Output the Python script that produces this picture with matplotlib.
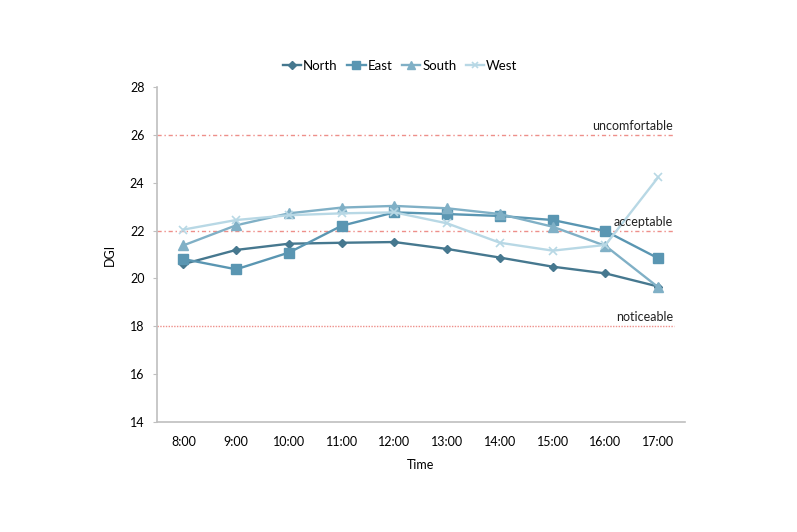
import matplotlib
matplotlib.use("Agg")
import matplotlib.pyplot as plt

plt.rcParams['font.family'] = ['Lato', 'DejaVu Sans']

times = ["8:00", "9:00", "10:00", "11:00", "12:00", "13:00", "14:00", "15:00", "16:00", "17:00"]
north = [20.60, 21.19, 21.45, 21.49, 21.52, 21.23, 20.87, 20.49, 20.21, 19.66]
east = [20.81, 20.38, 21.08, 22.20, 22.76, 22.69, 22.61, 22.44, 21.98, 20.84]
south = [21.38, 22.22, 22.72, 22.96, 23.03, 22.93, 22.69, 22.16, 21.36, 19.63]
west = [22.04, 22.44, 22.64, 22.72, 22.76, 22.30, 21.49, 21.16, 21.40, 24.23]
thresholds = [26, 22, 18]
threshold_labels = ["uncomfortable", "acceptable", "noticeable"]
yticks = [14, 16, 18, 20, 22, 24, 26, 28]

fig = plt.figure(figsize=(7.97, 5.32), dpi=100)
ax = fig.add_axes([0.197, 0.2068, 0.662, 0.6297])

x = list(range(len(times)))
ax.plot(x, north, color='#46788f', marker='D', markersize=4.5, lw=1.7, label='North')
ax.plot(x, east, color='#5a96b2', marker='s', markersize=6.5, lw=1.7, label='East')
ax.plot(x, south, color='#80b0c6', marker='^', markersize=6.5, lw=1.7, label='South')
ax.plot(x, west, color='#b8d8e5', marker='x', markersize=6, mew=1.2, lw=1.7, label='West')

styles = [(0, (3, 2, 1, 2)), (0, (3, 2, 1, 2)), (0, (1, 1))]
xend = len(times) - 0.7
for t, lab, ls in zip(thresholds, threshold_labels, styles):
    ax.hlines(t, -0.5, xend, color='#ee8f8a', lw=1.0, linestyles=[ls], zorder=0.5)
    ax.text(xend - 0.02, t + 0.12, lab, ha='right', va='bottom', fontsize=9, color='#222222')

ax.set_xlim(-0.5, len(times) - 0.5)
ax.set_ylim(14, 28)
ax.set_xticks(x)
ax.set_xticklabels(times)
ax.set_yticks(yticks)
ax.tick_params(axis='x', length=0, pad=10, labelsize=9)
ax.tick_params(axis='y', length=3, color='#bfbfbf', labelsize=9, pad=6)
for s in ['top', 'right']:
    ax.spines[s].set_visible(False)
for s in ['left', 'bottom']:
    ax.spines[s].set_color('#bfbfbf')
    ax.spines[s].set_linewidth(1.2)
ax.set_xlabel("Time", fontsize=9, labelpad=8)
ax.set_ylabel("DGI", fontsize=9, labelpad=10)

fig.legend(loc='center', bbox_to_anchor=(0.502, 0.876), ncol=4, frameon=False,
           fontsize=9.5, handlelength=1.4, handletextpad=0.15, columnspacing=0.7,
           markerscale=0.8)

fig.savefig("out.png", dpi=100)
